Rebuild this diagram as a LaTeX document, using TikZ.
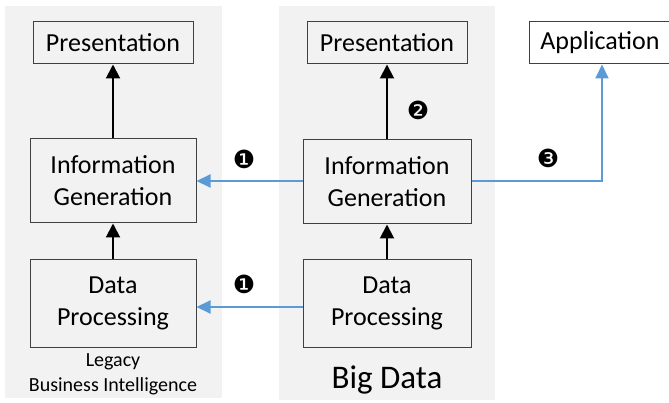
\documentclass[tikz,border=0pt]{standalone}
\usepackage{fontspec}
\setmainfont{Carlito}
\newfontfamily\dingfont{DejaVu Sans}
\usetikzlibrary{arrows.meta}
\definecolor{panelgray}{HTML}{F2F2F2}
\definecolor{flowblue}{HTML}{5B9BD5}
\definecolor{boxline}{HTML}{404040}
\tikzset{
  panel/.style={fill=panelgray, draw=none},
  stagebox/.style={draw=boxline, line width=1pt, align=center, inner sep=0pt,
    font=\fontsize{26}{32}\selectfont},
  upflow/.style={draw=black, line width=2pt, -{Triangle[length=14pt,width=14pt]}},
  blueflow/.style={draw=flowblue, line width=2pt, -{Triangle[length=14pt,width=13pt]}},
  marker/.style={font=\dingfont\fontsize{25}{25}\selectfont, inner sep=0pt},
}
\begin{document}
\begin{tikzpicture}[x=1pt, y=-1pt]
\useasboundingbox (0,0) rectangle (669,403);
\fill[white] (0,0) rectangle (669,403);
% panels
\fill[panelgray] (5,6) rectangle (222,398);
\fill[panelgray] (279,6) rectangle (495,400);
% left column
\node[stagebox, minimum width=160pt, minimum height=42pt] (lpres) at (113,43) {Presentation};
\node[stagebox, minimum width=166pt, minimum height=84pt] (linfo) at (113,181) {Information\\Generation};
\node[stagebox, minimum width=166pt, minimum height=87pt] (ldata) at (113,303.5) {Data\\Processing};
\node[align=center, font=\fontsize{20}{25}\selectfont] (legacy) at (113,374) {Legacy\\Business Intelligence};
% right column
\node[stagebox, minimum width=160pt, minimum height=42pt] (rpres) at (387,43) {Presentation};
\node[stagebox, minimum width=168pt, minimum height=84pt] (rinfo) at (387,182) {Information\\Generation};
\node[stagebox, minimum width=168pt, minimum height=87pt] (rdata) at (387,303.5) {Data\\Processing};
\node[font=\fontsize{33}{38}\selectfont] (bigdata) at (387,380) {Big Data};
% application
\node[stagebox, fill=white, minimum width=142pt, minimum height=42pt] (app) at (600,43) {Application};
% black arrows
\draw[upflow] (ldata.north) -- (linfo.south);
\draw[upflow] (linfo.north) -- (lpres.south);
\draw[upflow] (rdata.north) -- (rinfo.south);
\draw[upflow] (rinfo.north) -- (rpres.south);
% blue arrows
\coordinate (upperrow) at (250,181);
\coordinate (lowerrow) at (250,307);
\draw[blueflow] (rinfo.west |- upperrow) -- (linfo.east |- upperrow);
\draw[blueflow] (rdata.west |- lowerrow) -- (ldata.east |- lowerrow);
\coordinate (corner) at (602,181);
\draw[blueflow] (rinfo.east |- corner) -- (corner) -- (app.south -| corner);
% markers
\node[marker] (m1a) at (244,159) {❶};
\node[marker] (m1b) at (244,284) {❶};
\node[marker] (m2) at (418,110) {❷};
\node[marker] (m3) at (548,158) {❸};
\end{tikzpicture}
\end{document}
